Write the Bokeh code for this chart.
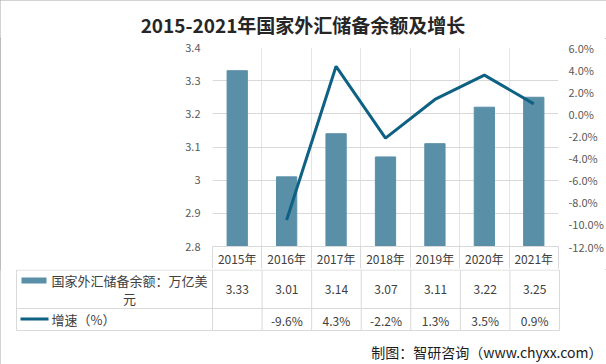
from bokeh.plotting import figure
from bokeh.layouts import column
from bokeh.models import (Range1d, LinearAxis, FixedTicker,
                          PrintfTickFormatter, CustomJSTickFormatter)
from bokeh.core.properties import value
from bokeh.embed import file_html
from bokeh.resources import INLINE

# ---------------- data ----------------
years = ["2015年", "2016年", "2017年", "2018年", "2019年", "2020年", "2021年"]
reserves = [3.33, 3.01, 3.14, 3.07, 3.11, 3.22, 3.25]
growth_years = ["2016年", "2017年", "2018年", "2019年", "2020年", "2021年"]
growth = [-9.6, 4.3, -2.2, 1.3, 3.5, 0.9]
left_ticks = [2.8, 2.9, 3.0, 3.1, 3.2, 3.3, 3.4]
right_ticks = [-12, -10, -8, -6, -4, -2, 0, 2, 4, 6]
title_text = "2015-2021年国家外汇储备余额及增长"
bar_name_1 = "国家外汇储备余额：万亿美"
bar_name_2 = "元"
line_name = "增速（%）"
source_note = "制图：智研咨询（www.chyxx.com）"

BAR_COLOR = "#5A8FA8"
LINE_COLOR = "#0E6183"
GRID = "#D9D9D9"
TXT = "#404040"
FONT = "Noto Sans CJK SC"

W = 606
HEAD_H = 38                       # title strip: y 0..38
FRAME_L, FRAME_R = 212, 559
FRAME_T, FRAME_B = 47, 247
HDR_B = 269                       # bottom of header row of the table
CHART_H = HDR_B - HEAD_H
TAB_H = 364 - HDR_B
n = len(years)
U = (FRAME_R - FRAME_L) / n       # pixels per category column
cat_x = [i + 0.5 for i in range(n)]          # centre of each category column
growth_x = [years.index(y) + 0.5 for y in growth_years]


def plain(fig):
    fig.outline_line_color = None
    fig.background_fill_color = "white"
    fig.border_fill_color = "white"
    fig.frame_align = False
    return fig


# ---------------- title strip ----------------
hd = plain(figure(width=W, height=HEAD_H, x_range=Range1d(0, W), y_range=Range1d(HEAD_H, 0),
                  output_backend="svg", toolbar_location=None, x_axis_type=None,
                  y_axis_type=None, min_border=0, min_border_left=0, min_border_right=0,
                  min_border_top=0, min_border_bottom=0))
hd.grid.visible = False
hd.text(x=[302.5], y=[23.5], text=[title_text], text_align="center", text_baseline="middle",
        text_font=value(FONT), text_font_size="19px", text_font_style="bold",
        text_color="#262626")

# ---------------- chart ----------------
p = plain(figure(width=W, height=CHART_H, x_range=Range1d(0, n),
                 y_range=Range1d(2.8, 3.4), output_backend="svg", toolbar_location=None,
                 x_axis_location=None,
                 min_border_left=FRAME_L, min_border_right=W - FRAME_R,
                 min_border_top=FRAME_T - HEAD_H, min_border_bottom=HDR_B - FRAME_B))
p.ygrid.grid_line_color = GRID
p.ygrid.ticker = FixedTicker(ticks=left_ticks)

yax = p.yaxis[0]
yax.ticker = FixedTicker(ticks=left_ticks)
yax.formatter = CustomJSTickFormatter(code="return (Math.round(tick*10)/10).toString();")
yax.axis_line_color = None
yax.major_tick_line_color = None
yax.minor_tick_line_color = None
yax.major_tick_out = 0
yax.major_tick_in = 0
yax.major_label_standoff = 12
yax.major_label_text_color = "#595959"
yax.major_label_text_font_size = "11px"
yax.major_label_text_font = FONT

p.extra_y_ranges = {"pct": Range1d(-12, 6)}
rax = LinearAxis(y_range_name="pct", ticker=FixedTicker(ticks=right_ticks),
                 formatter=PrintfTickFormatter(format="%.1f%%"))
rax.axis_line_color = None
rax.major_tick_line_color = None
rax.minor_tick_line_color = None
rax.major_tick_out = 0
rax.major_tick_in = 0
rax.major_label_standoff = 10
rax.major_label_text_color = "#595959"
rax.major_label_text_font_size = "11px"
rax.major_label_text_font = FONT
p.add_layout(rax, "right")

# header row of the data table = the category axis
HDR_H = HDR_B - FRAME_B
xax = LinearAxis(ticker=FixedTicker(ticks=cat_x, minor_ticks=list(range(n + 1))),
                 formatter=CustomJSTickFormatter(args=dict(labels=years),
                                                 code="return labels[Math.floor(tick)];"))
xax.axis_line_color = GRID
xax.major_tick_line_color = None
xax.major_tick_out = 0
xax.major_tick_in = 0
xax.minor_tick_line_color = GRID
xax.minor_tick_in = 0
xax.minor_tick_out = HDR_H
xax.major_label_standoff = 3 - HDR_H
xax.major_label_text_color = TXT
xax.major_label_text_font_size = "12px"
xax.major_label_text_font = FONT
p.add_layout(xax, "below")

p.vbar(x=cat_x, top=reserves, bottom=2.8, width=0.41, color=BAR_COLOR)
p.line(x=growth_x, y=growth, y_range_name="pct", line_width=3, color=LINE_COLOR)


# ---------------- data table rows + source note ----------------
def cx(px):
    return (px - FRAME_L) / U


def cy(py):
    return py - HDR_B


tb = plain(figure(width=W, height=TAB_H, x_range=Range1d(cx(0), cx(W)),
                  y_range=Range1d(TAB_H, 0), output_backend="svg", toolbar_location=None,
                  x_axis_type=None, y_axis_type=None, min_border=0, min_border_left=0,
                  min_border_right=0, min_border_top=0, min_border_bottom=0))
tb.grid.visible = False

L = cx(16)
row_y = [cy(269.5), cy(308), cy(330)]
tb.segment(x0=[L] * 3, x1=[n] * 3, y0=row_y, y1=row_y, line_color=GRID, line_width=1)
vx = [L] + list(range(n + 1))
tb.segment(x0=vx, x1=vx, y0=[row_y[0]] * len(vx), y1=[row_y[2]] * len(vx),
           line_color=GRID, line_width=1)

tb.text(x=cat_x, y=[cy(289)] * n, text=["%.2f" % v for v in reserves],
        text_align="center", text_baseline="middle", text_font=value(FONT),
        text_font_size="12px", text_color=TXT)
tb.text(x=growth_x, y=[cy(319.5)] * len(growth_x), text=["%.1f%%" % g for g in growth],
        text_align="center", text_baseline="middle", text_font=value(FONT),
        text_font_size="12px", text_color=TXT)

# legend keys and names
tb.quad(left=[cx(21)], right=[cx(46)], top=[cy(277)], bottom=[cy(283)],
        fill_color=BAR_COLOR, line_color=None)
tb.segment(x0=[cx(20)], x1=[cx(48)], y0=[cy(318.5)], y1=[cy(318.5)],
           line_color=LINE_COLOR, line_width=3)
tb.text(x=[cx(51)], y=[cy(280)], text=[bar_name_1], text_align="left",
        text_baseline="middle", text_font=value(FONT), text_font_size="13px",
        text_color=TXT)
tb.text(x=[cx(129)], y=[cy(298)], text=[bar_name_2], text_align="center",
        text_baseline="middle", text_font=value(FONT), text_font_size="13px",
        text_color=TXT)
tb.text(x=[cx(51)], y=[cy(318.5)], text=[line_name], text_align="left",
        text_baseline="middle", text_font=value(FONT), text_font_size="13px",
        text_color=TXT)

tb.text(x=[cx(602)], y=[cy(351.5)], text=[source_note], text_align="right",
        text_baseline="middle", text_font=value(FONT), text_font_size="14px",
        text_color="#1a1a1a")

layout = column(hd, p, tb, spacing=0,
                styles={"outline": "1px solid #A6A6A6", "outline-offset": "-1px"})
open("out.html", "w").write(file_html(layout, INLINE))
